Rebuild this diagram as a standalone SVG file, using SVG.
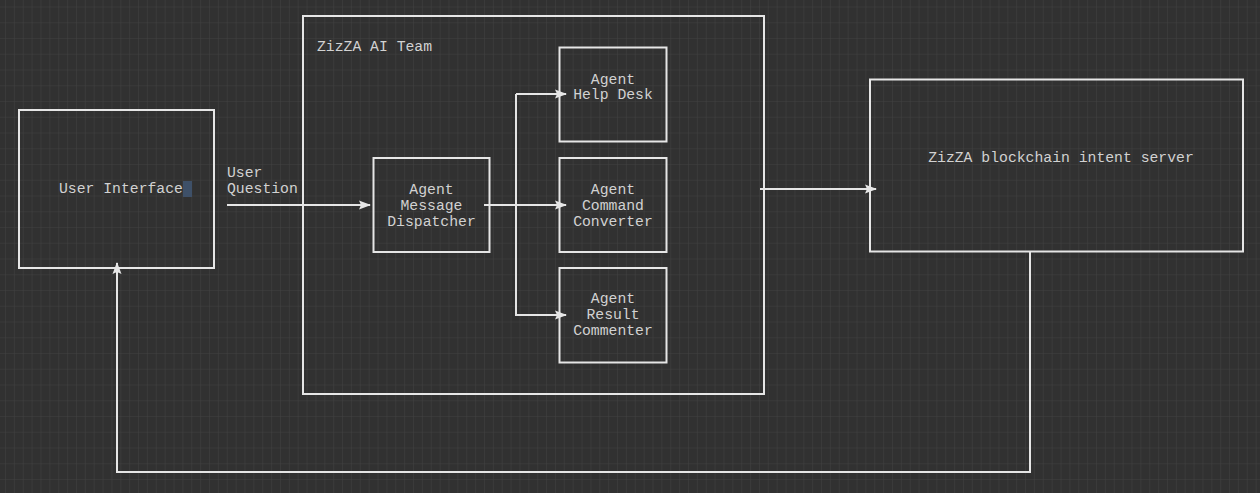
<svg xmlns="http://www.w3.org/2000/svg" width="1260" height="493" viewBox="0 0 1260 493">
<defs>
<pattern id="grid" x="5" y="6.5" width="8.87" height="15.75" patternUnits="userSpaceOnUse">
<path d="M0,0 V15.75 M0,0 H8.87" stroke="#424242" stroke-width="1" fill="none"/>
</pattern>
<marker id="arr" viewBox="0 0 12 10" refX="11" refY="5" markerWidth="12" markerHeight="10" markerUnits="userSpaceOnUse" orient="auto">
<path d="M0,0.5 L12,5 L0,9.5 L2,5 z" fill="#e6e6e6"/>
</marker>
<style>
.box{fill:none;stroke:#e6e6e6;stroke-width:2}
.t{font-family:"Liberation Mono","Courier New",monospace;font-size:14.75px;fill:#d2d2d2}
.m{text-anchor:middle}
.c{fill:none;stroke:#e6e6e6;stroke-width:2}
</style>
</defs>
<rect width="1260" height="493" fill="#313131"/>
<rect width="1260" height="493" fill="url(#grid)"/>

<g id="team">
<rect class="box" x="303" y="16" width="461" height="378"/>
<text class="t" x="317" y="51">ZizZA AI Team</text>
</g>

<g id="user-interface">
<rect class="box" x="19" y="110" width="195" height="158"/>
<rect x="183" y="181" width="9" height="16" fill="#3e5068"/>
<text class="t" x="59" y="193">User Interface</text>
</g>

<g id="dispatcher">
<rect class="box" x="373.5" y="158" width="116" height="94"/>
<text class="t m" x="431.5" y="194">Agent</text>
<text class="t m" x="431.5" y="210">Message</text>
<text class="t m" x="431.5" y="226">Dispatcher</text>
</g>

<g id="help-desk">
<rect class="box" x="559.5" y="47.5" width="107" height="94"/>
<text class="t m" x="613" y="84">Agent</text>
<text class="t m" x="613" y="99">Help Desk</text>
</g>

<g id="command-converter">
<rect class="box" x="559.5" y="158" width="107" height="94"/>
<text class="t m" x="613" y="194">Agent</text>
<text class="t m" x="613" y="210">Command</text>
<text class="t m" x="613" y="226">Converter</text>
</g>

<g id="result-commenter">
<rect class="box" x="559.5" y="268" width="107" height="94.5"/>
<text class="t m" x="613" y="303">Agent</text>
<text class="t m" x="613" y="319">Result</text>
<text class="t m" x="613" y="335">Commenter</text>
</g>

<g id="server">
<rect class="box" x="870" y="79.5" width="373" height="172"/>
<text class="t m" x="1061" y="162">ZizZA blockchain intent server</text>
</g>

<g id="connectors">
<path class="c" d="M227,205 H370" marker-end="url(#arr)"/>
<text class="t" x="227" y="177">User</text>
<text class="t" x="227" y="193">Question</text>
<path class="c" d="M484,205 H566" marker-end="url(#arr)"/>
<path class="c" d="M516,94 H566" marker-end="url(#arr)"/>
<path class="c" d="M516,94 V315 H566" marker-end="url(#arr)"/>
<path class="c" d="M760,189 H876" marker-end="url(#arr)"/>
<path class="c" d="M1030,252 V472 H117 V263" marker-end="url(#arr)"/>
</g>
</svg>
